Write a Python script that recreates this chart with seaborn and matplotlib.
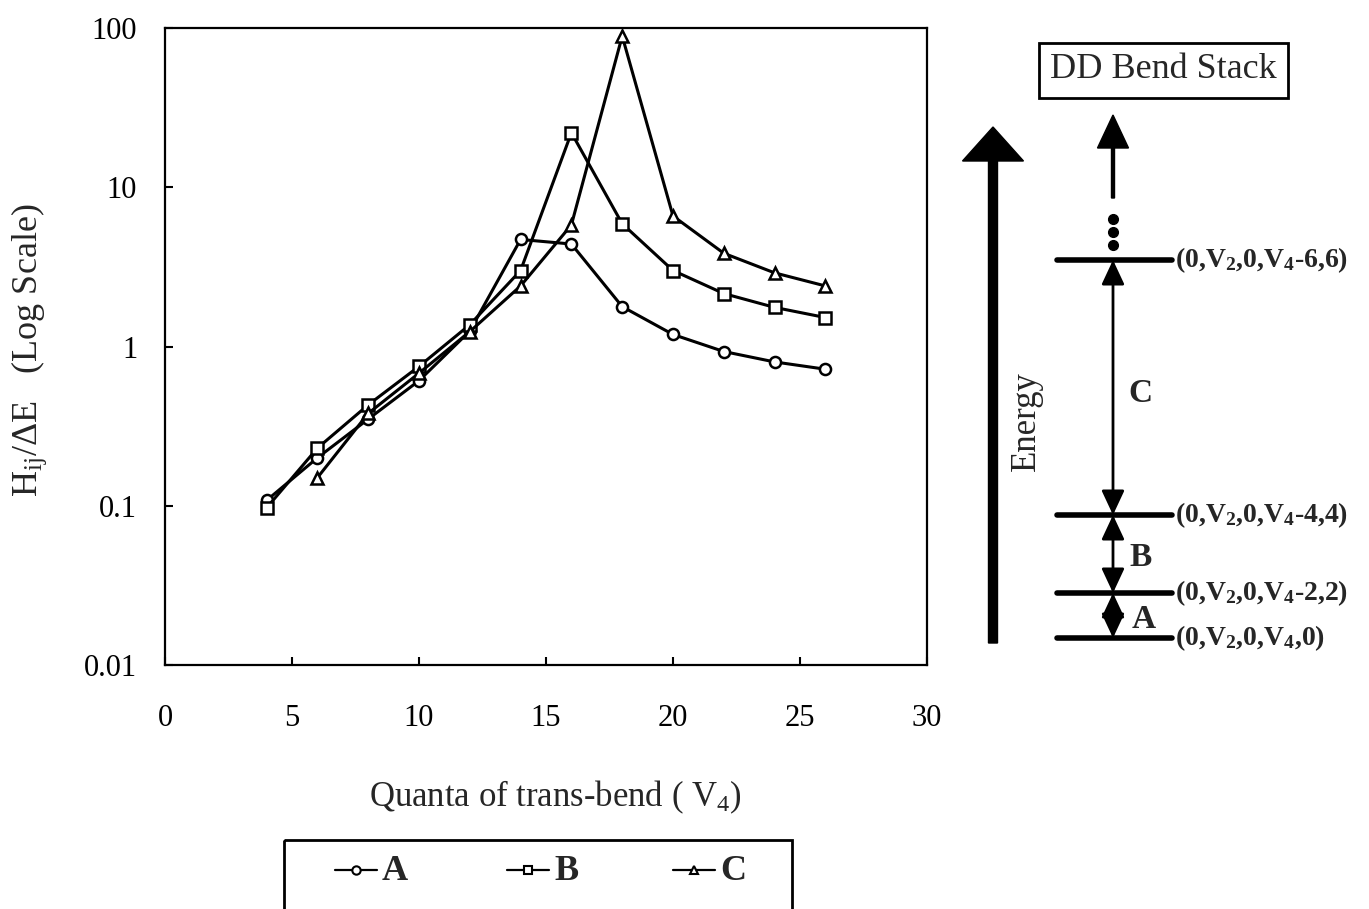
import numpy as np
import pandas as pd
import matplotlib
matplotlib.use('Agg')
import matplotlib.pyplot as plt
import seaborn as sns
from matplotlib.patches import Rectangle
from matplotlib.ticker import FixedLocator, FixedFormatter, NullLocator

# ---- data ----
v4_a = [4, 6, 8, 10, 12, 14, 16, 18, 20, 22, 24, 26]
ratio_a = [0.108, 0.20, 0.35, 0.61, 1.25, 4.7, 4.4, 1.78, 1.19, 0.93, 0.80, 0.72]
v4_b = [4, 6, 8, 10, 12, 14, 16, 18, 20, 22, 24, 26]
ratio_b = [0.097, 0.23, 0.43, 0.75, 1.37, 3.0, 22.0, 5.9, 3.0, 2.15, 1.76, 1.52]
v4_c = [6, 8, 10, 12, 14, 16, 18, 20, 22, 24, 26]
ratio_c = [0.15, 0.38, 0.68, 1.24, 2.4, 5.8, 89.0, 6.6, 3.85, 2.9, 2.4]

series_names = ['A', 'B', 'C']
marker_map = {'A': 'o', 'B': 's', 'C': '^'}

y_ticks = [0.01, 0.1, 1, 10, 100]
y_tick_labels = ['0.01', '0.1', '1', '10', '100']
x_ticks = [0, 5, 10, 15, 20, 25, 30]

# energy level diagram (schematic, figure pixels)
level_labels = ['(0,V$_2$,0,V$_4$,0)', '(0,V$_2$,0,V$_4$-2,2)',
                '(0,V$_2$,0,V$_4$-4,4)', '(0,V$_2$,0,V$_4$-6,6)']
level_y = [638, 593, 515, 260]
gap_labels = ['A', 'B', 'C']

df = pd.concat([
    pd.DataFrame({'v4': v4_a, 'ratio': ratio_a, 'series': 'A'}),
    pd.DataFrame({'v4': v4_b, 'ratio': ratio_b, 'series': 'B'}),
    pd.DataFrame({'v4': v4_c, 'ratio': ratio_c, 'series': 'C'}),
])

# ---- style ----
sns.set_theme(style='ticks')
plt.rcParams['font.family'] = ['Liberation Serif', 'DejaVu Serif']
plt.rcParams['mathtext.default'] = 'regular'
plt.rcParams['axes.linewidth'] = 1.6

fig = plt.figure(figsize=(13.69, 9.09), dpi=100)
ax = fig.add_axes([165 / 1369, 1 - 665 / 909, 762 / 1369, 637 / 909])

sns.lineplot(data=df, x='v4', y='ratio', style='series', markers=marker_map,
             dashes=False, color='black', linewidth=2.2, markersize=8,
             markerfacecolor='white', markeredgecolor='black',
             markeredgewidth=1.8, legend=False, ax=ax)

ax.set_yscale('log')
ax.set_ylim(0.01, 100)
ax.set_xlim(0, 30)
ax.yaxis.set_major_locator(FixedLocator(y_ticks))
ax.yaxis.set_major_formatter(FixedFormatter(y_tick_labels))
ax.yaxis.set_minor_locator(NullLocator())
ax.set_xticks(x_ticks)
ax.tick_params(axis='both', direction='in', length=6, width=1.5, labelsize=22, colors='black')
ax.tick_params(axis='x', pad=28)
ax.tick_params(axis='y', pad=20)
for s in ax.spines.values():
    s.set_visible(True)
    s.set_color('black')

ax.set_xlabel('Quanta of trans-bend ( V$_4$)', fontsize=25)
ax.xaxis.set_label_coords(0.512, -0.178)
ax.set_ylabel('H$_{ij}$/ΔE   (Log Scale)', fontsize=26)
ax.yaxis.set_label_coords(-0.152, 0.494)

# ---- overlay for the diagram and legend box ----
ov = fig.add_axes([0, 0, 1, 1], zorder=5)
ov.set_xlim(0, 1369)
ov.set_ylim(909, 0)
ov.axis('off')
ov.patch.set_alpha(0)

# legend (box runs off the bottom of the figure)
ov.add_patch(Rectangle((284, 840), 508, 90, fill=False, lw=2, ec='black', clip_on=False))
legend_x = [335, 507, 673]
for x0, name in zip(legend_x, series_names):
    ov.plot([x0, x0 + 42], [870, 870], color='black', lw=1.6)
    ov.plot([x0 + 21], [870], marker=marker_map[name], markersize=6,
            markerfacecolor='white', markeredgecolor='black', markeredgewidth=1.5)
    ov.text(x0 + 47, 871, name, ha='left', va='center', fontsize=26, fontweight='bold')

# big energy arrow
ov.arrow(993, 643, 0, -516, width=9, head_width=61, head_length=34,
         length_includes_head=True, color='black')
ov.text(1026, 421, 'Energy', rotation=90, ha='center', va='center', fontsize=25)

# title box
ov.add_patch(Rectangle((1039, 43), 249, 55, fill=False, lw=2, ec='black'))
ov.text(1163, 69, 'DD Bend Stack', ha='center', va='center', fontsize=26)

# open-ended stack arrow + dots
ov.arrow(1113, 198, 0, -83, width=3, head_width=31, head_length=33,
         length_includes_head=True, color='black')
ov.plot([1113, 1113, 1113], [219, 232, 245], 'o', color='black', markersize=7)

# levels
for yl, lab in zip(level_y, level_labels):
    ov.plot([1057, 1172], [yl, yl], color='black', lw=4, solid_capstyle='round')
    ov.text(1175, yl, lab, ha='left', va='center', fontsize=20, fontweight='bold')

# double arrows between levels
gap_label_pos = [(1144, 620), (1141, 558), (1140, 393)]
for i, (lab, pos) in enumerate(zip(gap_labels, gap_label_pos)):
    ov.annotate('', xy=(1113, level_y[i + 1]), xytext=(1113, level_y[i]),
                arrowprops=dict(arrowstyle='<|-|>,head_length=0.75,head_width=0.35',
                                mutation_scale=20, lw=2, color='black',
                                shrinkA=0, shrinkB=0))
    ov.text(pos[0], pos[1], lab, ha='center', va='center', fontsize=24, fontweight='bold')

fig.savefig('out.png', dpi=100)
